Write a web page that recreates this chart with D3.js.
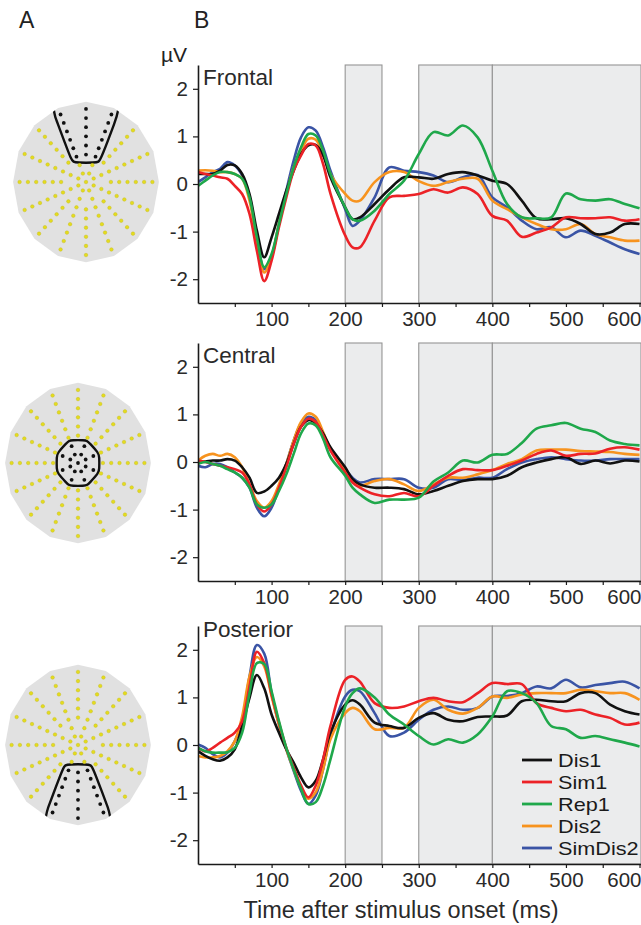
<!DOCTYPE html>
<html>
<head>
<meta charset="utf-8">
<script src="https://cdn.jsdelivr.net/npm/d3@7/dist/d3.min.js"></script>
<style>
  body { margin: 0; background: #fff; }
  svg { display: block; font-family: "Liberation Sans", Arial, sans-serif; }
</style>
</head>
<body>
<div id="app"></div>
<script>
// time points (ms) of the sampled waveforms
const times = [0, 10, 20, 30, 40, 50, 60, 70, 80, 90, 100, 110, 120, 130, 140, 150, 160, 170, 180,
    200, 210, 220, 240, 260, 280, 300, 320, 340, 360, 380, 400, 420, 440, 460, 480, 500, 520, 540, 560, 580, 600];

const conditions = ['Dis1', 'Sim1', 'Rep1', 'Dis2', 'SimDis2'];
const regions = ['Frontal', 'Central', 'Posterior'];
const analysisWindows = [[200, 250], [300, 400], [400, 602]];
const yTicks = [-2, -1, 0, 1, 2];
const xTicks = [50, 100, 150, 200, 250, 300, 350, 400, 450, 500, 550, 600];

// µV, one value per time point
const frontalDis1 = [.21, .21, .21, .28, .40, .39, .21, -.21, -.98, -1.54, -1.12, -.63, -.14, .28, .63, .81, .82, .60, .14,
    -.49, -.74, -.70, -.42, -.11, .14, .14, .11, .21, .25, .18, .07, 0, -.35, -.72, -.74, -.72, -.84, -1.05, -1.02, -.84, -.84];
const frontalSim1 = [.25, .21, .18, .14, .11, -.04, -.21, -.63, -1.40, -2.04, -1.61, -.91, -.28, .28, .60, .84, .81, .42, -.20,
    -1.08, -1.33, -1.33, -.77, -.28, -.25, -.21, -.11, -.18, -.07, -.21, -.67, -.77, -1.11, -1.02, -.91, -.70, -.72, -.72, -.70, -.77, -.74];
const frontalRep1 = [-.04, .07, .18, .25, .25, .21, .11, -.28, -1.12, -1.75, -1.47, -.84, -.21, .35, .77, 1.05, 1.02, .70, .21,
    -.49, -.74, -.77, -.56, -.21, .07, .63, 1.09, 1.02, 1.23, .98, .28, -.42, -.70, -.72, -.70, -.20, -.32, -.35, -.32, -.42, -.51];
const frontalDis2 = [.28, .29, .28, .25, .25, .21, .11, -.35, -1.19, -1.86, -1.54, -.84, -.21, .35, .70, .95, .93, .63, .21,
    -.21, -.35, -.35, .04, .25, .25, .06, -.04, .04, .11, .11, -.35, -.53, -.70, -.84, -.95, -.95, -.84, -1.05, -1.12, -1.19, -1.19];
const frontalSimDis2 = [.04, .14, .25, .32, .46, .39, .18, -.28, -1.12, -1.79, -1.51, -.84, -.14, .49, .98, 1.19, 1.12, .77, .28,
    -.53, -.88, -.77, -.28, .35, .28, .25, .18, .04, .14, .19, -.28, -.49, -.77, -.95, -.91, -1.12, -.98, -1.09, -1.23, -1.37, -1.47];

const centralDis1 = [0, .01, .03, .03, .06, .03, -.11, -.33, -.65, -.62, -.50, -.33, -.04, .38, .74, .88, .81, .60, .31,
    -.11, -.36, -.47, -.54, -.54, -.57, -.68, -.61, -.50, -.40, -.36, -.36, -.29, -.11, -.01, .06, .10, -.04, .03, -.03, .03, .01];
const centralSim1 = [.03, 0, -.04, -.08, -.11, -.15, -.22, -.47, -.89, -1.04, -.89, -.54, -.11, .38, .74, .91, .84, .56, .24,
    -.22, -.43, -.54, -.68, -.72, -.65, -.72, -.50, -.29, -.15, -.17, -.17, -.08, .03, .17, .24, .13, .17, .18, .28, .31, .26];
const centralRep1 = [-.04, 0, -.04, -.08, -.15, -.22, -.33, -.54, -.89, -.96, -.89, -.61, -.26, .17, .60, .81, .77, .49, .10,
    -.29, -.54, -.68, -.86, -.79, -.79, -.75, -.41, -.22, .03, -.01, .15, .17, .40, .70, .77, .82, .70, .63, .45, .38, .35];
const centralDis2 = [.03, .13, .17, .13, .17, .10, -.11, -.47, -.82, -.96, -.82, -.47, -.04, .45, .84, 1.02, .95, .63, .28,
    -.17, -.40, -.50, -.40, -.36, -.47, -.61, -.47, -.33, -.33, -.26, -.17, -.04, .06, .24, .26, .26, .23, .22, .21, .17, .15];
const centralSimDis2 = [-.08, -.11, -.04, -.04, -.11, -.22, -.33, -.54, -.96, -1.14, -.96, -.54, -.04, .45, .81, .95, .88, .60, .28,
    -.15, -.33, -.43, -.36, -.36, -.36, -.54, -.54, -.36, -.38, -.33, -.33, -.15, -.01, .06, .10, .06, .03, .03, .06, .06, .06];

const posteriorDis1 = [-.13, -.23, -.30, -.33, -.26, -.09, .40, .99, 1.47, 1.19, .64, .26, -.09, -.37, -.68, -.89, -.75, -.30, .26,
    .85, .94, .85, .47, .40, .36, .57, .67, .53, .50, .59, .60, .62, .92, .95, .92, .92, 1.09, 1.09, .85, .71, .64];
const posteriorSim1 = [-.06, -.13, -.06, .05, .15, .26, .50, 1.23, 1.96, 1.72, 1.06, .47, -.06, -.47, -.85, -1.10, -.85, -.30, .40,
    1.37, 1.44, 1.33, .88, .78, .81, .92, .99, .92, .90, 1.09, 1.30, 1.28, 1.28, .88, .78, .71, .74, .64, .57, .43, .47];
const posteriorRep1 = [-.06, -.13, -.16, -.16, -.15, -.06, .26, 1.09, 1.72, 1.70, 1.13, .50, -.06, -.51, -.92, -1.24, -1.20, -.85, -.30,
    .81, 1.09, 1.19, 1.0, .64, .43, .19, .01, .12, .05, .22, .60, 1.13, 1.09, .88, .40, .33, .15, .19, .12, .05, -.03];
const posteriorDis2 = [-.23, -.26, -.26, -.23, -.13, .08, .60, 1.44, 1.85, 1.65, 1.02, .43, -.09, -.51, -.89, -1.13, -.99, -.51, .12,
    .67, .78, .71, .33, .36, .36, .78, .95, .74, .66, .78, 1.02, .99, 1.06, 1.09, 1.09, 1.09, 1.16, 1.13, 1.09, 1.09, .95];
const posteriorSimDis2 = [.01, -.06, -.19, -.26, -.16, .08, .47, 1.44, 2.10, 1.92, 1.09, .43, -.09, -.54, -.96, -1.24, -1.06, -.51, .19,
    1.02, 1.16, 1.13, .67, .19, .26, .53, .74, .81, .74, .78, 1.02, 1.03, 1.09, 1.23, 1.19, 1.37, 1.21, 1.26, 1.30, 1.33, 1.19];

const waves = {
    Frontal: [frontalDis1, frontalSim1, frontalRep1, frontalDis2, frontalSimDis2],
    Central: [centralDis1, centralSim1, centralRep1, centralDis2, centralSimDis2],
    Posterior: [posteriorDis1, posteriorSim1, posteriorRep1, posteriorDis2, posteriorSimDis2]
};

// ---- layout
const width = 641, height = 925;
const plotLeft = 198, plotRight = 641, panelH = 238;
const panelTops = [65, 343, 626];
const titleDy = [20, 20, 11];
const heads = [{ cx: 86, cy: 182 }, { cx: 78, cy: 463 }, { cx: 78, cy: 745 }];
const colors = d3.scaleOrdinal().domain(conditions)
    .range(['#111111', '#ec2227', '#1fa84b', '#f7931e', '#3a54a5']);
const drawOrder = [4, 3, 0, 1, 2];

const svg = d3.select('#app').append('svg').attr('width', width).attr('height', height);

const x = d3.scaleLinear().domain([0, 602]).range([plotLeft, plotRight]);

svg.append('defs').append('clipPath').attr('id', 'plotclip')
    .append('rect').attr('x', plotLeft).attr('y', 0).attr('width', plotRight - plotLeft).attr('height', height);

regions.forEach(function (region, p) {
    const top = panelTops[p];
    const y = d3.scaleLinear().domain([-2.5, 2.5]).range([top + panelH, top]);
    const g = svg.append('g');

    g.selectAll('rect.win').data(analysisWindows).enter().append('rect')
        .attr('class', 'win')
        .attr('x', d => x(d[0]))
        .attr('y', y(2.5))
        .attr('width', d => x(d[1]) - x(d[0]))
        .attr('height', y(-2.5) - y(2.5))
        .attr('fill', '#ebeced')
        .attr('stroke', '#959595')
        .attr('stroke-width', 1.1);

    const line = d3.line()
        .x((d, i) => x(times[i]))
        .y(d => y(d))
        .curve(d3.curveCatmullRom.alpha(0.5));

    g.append('g').attr('clip-path', 'url(#plotclip)')
        .selectAll('path').data(drawOrder).enter().append('path')
        .attr('d', i => line(waves[region][i]))
        .attr('fill', 'none')
        .attr('stroke', i => colors(conditions[i]))
        .attr('stroke-width', 2.6)
        .attr('stroke-linejoin', 'round');

    const yAxis = g.append('g').attr('transform', `translate(${plotLeft},0)`)
        .call(d3.axisLeft(y).tickValues(yTicks).tickSize(5).tickPadding(5).tickSizeOuter(0).tickFormat(d => String(d)));
    const xAxis = g.append('g').attr('transform', `translate(0,${y(-2.5)})`)
        .call(d3.axisBottom(x).tickValues(xTicks).tickSize(4).tickPadding(4).tickSizeOuter(0)
            .tickFormat(d => d % 100 === 0 ? d : ''));
    [yAxis, xAxis].forEach(a => {
        a.select('.domain').attr('stroke', '#1a1a1a').attr('stroke-width', 1.6);
        a.selectAll('.tick line').attr('stroke', '#1a1a1a').attr('stroke-width', 1.2);
        a.selectAll('.tick text').attr('fill', '#2a2a2a').style('font-size', '20.5px');
    });
    xAxis.selectAll('.tick text').filter(d => d === 600).attr('text-anchor', 'end').attr('x', 1.5);

    g.append('text').attr('x', plotLeft + 5).attr('y', top + titleDy[p])
        .attr('fill', '#2a2a2a').style('font-size', '22.5px').text(region);
});

// legend in the posterior panel
const legend = svg.append('g').attr('transform', 'translate(522,760)');
const legendRows = legend.selectAll('g').data(conditions).enter().append('g')
    .attr('transform', (d, i) => `translate(0,${i * 22})`);
legendRows.append('line').attr('x1', 0).attr('x2', 30).attr('y1', 0).attr('y2', 0)
    .attr('stroke', d => colors(d)).attr('stroke-width', 2.8);
legendRows.append('text').attr('x', 36).attr('y', 7)
    .attr('fill', '#1a1a1a').style('font-size', '19px').text(d => d)
    .each(function () {
        // the original lettering is a little wider than this font
        const w = this.getComputedTextLength();
        d3.select(this).attr('textLength', w * 1.14).attr('lengthAdjust', 'spacingAndGlyphs');
    });

// labels
svg.append('text').attr('x', 19).attr('y', 28).style('font-size', '23px').attr('fill', '#222').text('A');
svg.append('text').attr('x', 194).attr('y', 28).style('font-size', '23px').attr('fill', '#222').text('B');
svg.append('text').attr('x', 187).attr('y', 62).attr('text-anchor', 'end').style('font-size', '21px').attr('fill', '#222').text('µV');
svg.append('text').attr('x', 401).attr('y', 918).attr('text-anchor', 'middle').style('font-size', '23.5px')
    .attr('fill', '#2a2a2a').text('Time after stimulus onset (ms)');

// ---- electrode maps (panel A)
const ringStep = 8.3, yStretch = 1.1, nRings = 8;
const electrodes = [{ k: 0, a: 0 }];
for (let k = 1; k <= nRings; k++) {
    const n = k <= 2 ? 8 : 16;
    for (let j = 0; j < n; j++) electrodes.push({ k: k, a: -90 + j * 360 / n + (k <= 2 ? 22.5 : 0) });
}
function angDiff(a, b) {
    let d = Math.abs(((a - b) % 360 + 360) % 360);
    return d > 180 ? 360 - d : d;
}
const selectors = [
    e => e.k >= 3 && angDiff(e.a, -90) <= 26,
    e => e.k <= 2,
    e => e.k >= 3 && angDiff(e.a, 90) <= 26
];
function pos(h, r, a) {
    const rad = a * Math.PI / 180;
    return [h.cx + r * Math.cos(rad), h.cy + r * Math.sin(rad) * yStretch];
}

heads.forEach(function (h, p) {
    const g = svg.append('g');
    const outline = d3.polygonHull(electrodes.filter(e => e.k === nRings)
        .map(e => pos(h, e.k * ringStep + 6.5, e.a)));
    const clipId = 'head' + p;
    g.append('clipPath').attr('id', clipId).append('path').attr('d', 'M' + outline.join('L') + 'Z');
    g.append('path').attr('d', 'M' + outline.join('L') + 'Z').attr('fill', '#e1e1e1');

    const chosen = electrodes.filter(selectors[p]);
    // contour points around the selected electrodes
    const pts = [];
    chosen.forEach(e => {
        const c = pos(h, e.k * ringStep, e.a);
        d3.range(12).forEach(j => {
            const t = j * Math.PI / 6;
            pts.push([c[0] + 6 * Math.cos(t), c[1] + 6 * Math.sin(t)]);
        });
        if (e.k === nRings) pts.push(pos(h, e.k * ringStep + 30, e.a));
    });
    const hull = d3.polygonHull(pts);
    g.append('path')
        .attr('d', d3.line().curve(d3.curveBasisClosed)(hull))
        .attr('clip-path', `url(#${clipId})`)
        .attr('fill', 'none').attr('stroke', '#111').attr('stroke-width', 2.4);

    g.selectAll('circle').data(electrodes).enter().append('circle')
        .attr('cx', e => pos(h, e.k * ringStep, e.a)[0])
        .attr('cy', e => pos(h, e.k * ringStep, e.a)[1])
        .attr('r', e => selectors[p](e) ? 1.9 : 1.8)
        .attr('fill', e => selectors[p](e) ? '#111' : '#e4dc1e')
        .attr('stroke', e => selectors[p](e) ? 'none' : '#c2b91a')
        .attr('stroke-width', 0.4);
});
</script>
</body>
</html>
